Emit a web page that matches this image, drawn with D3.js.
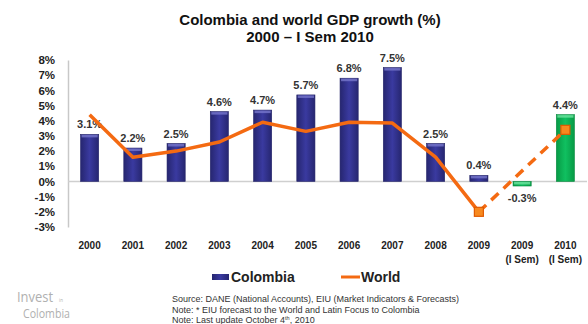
<!DOCTYPE html>
<html><head><meta charset="utf-8">
<script src="https://cdn.jsdelivr.net/npm/d3@7"></script>
<style>
html,body{margin:0;padding:0;background:#fff;}
svg{display:block;font-family:"Liberation Sans",Arial,sans-serif;}
</style></head>
<body>
<svg id="chart" width="588" height="324"></svg>
<script>
const categories = ["2000","2001","2002","2003","2004","2005","2006","2007","2008","2009","2009 (I Sem)","2010 (I Sem)"];
const colombia = [3.1, 2.2, 2.5, 4.6, 4.7, 5.7, 6.8, 7.5, 2.5, 0.4, -0.3, 4.4];
const world = [4.4, 1.6, 2.0, 2.6, 3.9, 3.3, 3.9, 3.85, 1.6, -2.0, null, 3.4];
const semester = [false,false,false,false,false,false,false,false,false,false,true,true];
const yTicks = [-3,-2,-1,0,1,2,3,4,5,6,7,8];
const titleLines = ["Colombia and world GDP growth (%)", "2000 \u2013 I Sem 2010"];
const notes = ["Source: DANE (National Accounts), EIU (Market Indicators & Forecasts)",
               "Note: * EIU forecast  to the World and Latin Focus to Colombia",
               "Note: Last update October 4th, 2010"];

const svg = d3.select("#chart");
const blue = "#33338f", green = "#00b050", orange = "#f46a12";

const defs = svg.append("defs");
function grad(id, edge, mid){
  const g = defs.append("linearGradient").attr("id", id).attr("x1","0").attr("x2","1").attr("y1","0").attr("y2","0");
  g.append("stop").attr("offset","0").attr("stop-color", edge);
  g.append("stop").attr("offset","0.5").attr("stop-color", mid);
  g.append("stop").attr("offset","1").attr("stop-color", edge);
}
grad("gBlue", "#262670", "#3a3aa0");
grad("gGreen", "#079a45", "#10c060");

const x = d3.scaleBand().domain(categories).range([68, 587]).paddingInner(0.58).paddingOuter(0.29);
const y = d3.scaleLinear().domain([-3, 8]).range([227, 60]);

// title
svg.append("g").selectAll("text").data(titleLines).join("text")
  .attr("x", 310).attr("y", (d,i) => 25 + i*17)
  .attr("text-anchor","middle").attr("font-weight","bold").attr("font-size", 15).attr("fill","#111")
  .text(d => d);

// y axis
const yAxis = svg.append("g").attr("transform","translate(68,0)")
  .call(d3.axisLeft(y).tickValues(yTicks).tickSize(0).tickPadding(13).tickFormat(d => d + "%"));
yAxis.select(".domain").attr("stroke","#c8c8c8").attr("stroke-width",1.5);
yAxis.selectAll("text").attr("font-size", 11.5).attr("font-weight","bold").attr("fill","#222")
  .attr("font-family","Liberation Sans, Arial, sans-serif");

// zero line
svg.append("line").attr("x1", 68).attr("x2", 587).attr("y1", y(0)).attr("y2", y(0))
  .attr("stroke","#cfcfcf").attr("stroke-width",1.5);

// x axis labels
const xAxis = svg.append("g").attr("transform","translate(0,240)")
  .call(d3.axisBottom(x).tickSize(0).tickPadding(0));
xAxis.select(".domain").remove();
xAxis.selectAll("text").each(function(d){
  const t = d3.select(this);
  const parts = d.split(" ");
  t.text(null).attr("font-size", 10).attr("font-weight","bold").attr("fill","#222")
   .attr("font-family","Liberation Sans, Arial, sans-serif").attr("dy", null).attr("y", 9);
  t.append("tspan").attr("x",0).attr("dy","0").text(parts[0]);
  if (parts.length > 1) t.append("tspan").attr("x",0).attr("dy", 14).text(parts.slice(1).join(" "));
});

// bars
const bars = svg.append("g").selectAll("g").data(colombia).join("g");
bars.append("rect")
  .attr("x", (d,i) => x(categories[i])).attr("width", x.bandwidth())
  .attr("y", d => y(Math.max(0,d))).attr("height", d => Math.abs(y(d) - y(0)))
  .attr("fill", (d,i) => semester[i] ? "url(#gGreen)" : "url(#gBlue)")
  .attr("stroke", (d,i) => semester[i] ? "#0a8a40" : "#25256a").attr("stroke-width", 0.6);
bars.append("rect")
  .attr("x", (d,i) => x(categories[i]) + 1).attr("width", x.bandwidth() - 2)
  .attr("y", d => y(Math.max(0,d)) + 0.5).attr("height", 2.5)
  .attr("fill", (d,i) => semester[i] ? "#6fe3a0" : "#7777cc").attr("opacity", 0.8);

// bar labels
svg.append("g").selectAll("text").data(colombia).join("text")
  .attr("x", (d,i) => x(categories[i]) + x.bandwidth()/2)
  .attr("y", d => d >= 0 ? y(d) - 6 : y(d) + 16)
  .attr("text-anchor","middle").attr("font-size", 11).attr("font-weight","bold").attr("fill","#333")
  .text(d => d.toFixed(1) + "%");

// world line
const pts = world.map((v,i) => ({v, i})).filter(p => p.v !== null);
const line = d3.line().x(p => x(categories[p.i]) + x.bandwidth()/2).y(p => y(p.v));
const solidPts = pts.filter(p => p.i <= 9);
const dashPts = pts.filter(p => p.i >= 9);
svg.append("path").attr("d", line(solidPts)).attr("fill","none").attr("stroke", orange)
  .attr("stroke-width", 3.5).attr("stroke-linejoin","round");
svg.append("path").attr("d", line(dashPts)).attr("fill","none").attr("stroke", orange)
  .attr("stroke-width", 3.5).attr("stroke-dasharray","10,7");
svg.append("g").selectAll("rect").data(dashPts).join("rect")
  .attr("x", p => x(categories[p.i]) + x.bandwidth()/2 - 4.5)
  .attr("y", p => y(p.v) - 4.5).attr("width", 9).attr("height", 9)
  .attr("fill", "#f7891f").attr("stroke", "#e05a00").attr("stroke-width", 1.2);

// legend
const lg = svg.append("g");
lg.append("rect").attr("x", 212).attr("y", 274).attr("width", 17).attr("height", 6).attr("fill", "url(#gBlue)");
lg.append("text").attr("x", 231).attr("y", 282).attr("font-size", 14).attr("font-weight","bold").attr("fill","#222").text("Colombia");
lg.append("line").attr("x1", 341).attr("x2", 360).attr("y1", 277).attr("y2", 277).attr("stroke", orange).attr("stroke-width", 3);
lg.append("text").attr("x", 361).attr("y", 282).attr("font-size", 14).attr("font-weight","bold").attr("fill","#222").text("World");

// notes
const nt = svg.append("g").selectAll("text").data(notes).join("text")
  .attr("x", 172).attr("y", (d,i) => 302 + i*10.5)
  .attr("font-size", 9).attr("fill","#333");
nt.each(function(d,i){
  const t = d3.select(this);
  if (i === 2) {
    t.append("tspan").text("Note: Last update October 4");
    t.append("tspan").attr("font-size", 5.5).attr("dy", -3).text("th");
    t.append("tspan").attr("dy", 3).text(", 2010");
  } else t.text(d);
});

// logo
const logo = svg.append("g").attr("fill", "#b0b0b0").attr("font-family", "Open Sans, sans-serif");
logo.append("text").attr("x", 17).attr("y", 302).attr("font-size", 15).attr("textLength", 36).attr("lengthAdjust","spacingAndGlyphs").text("Invest");
logo.append("text").attr("x", 59).attr("y", 302).attr("font-size", 4.5).text("in");
logo.append("text").attr("x", 23).attr("y", 318).attr("font-size", 12.5).attr("textLength", 47).attr("lengthAdjust","spacingAndGlyphs").text("Colombia");
</script>
</body></html>
